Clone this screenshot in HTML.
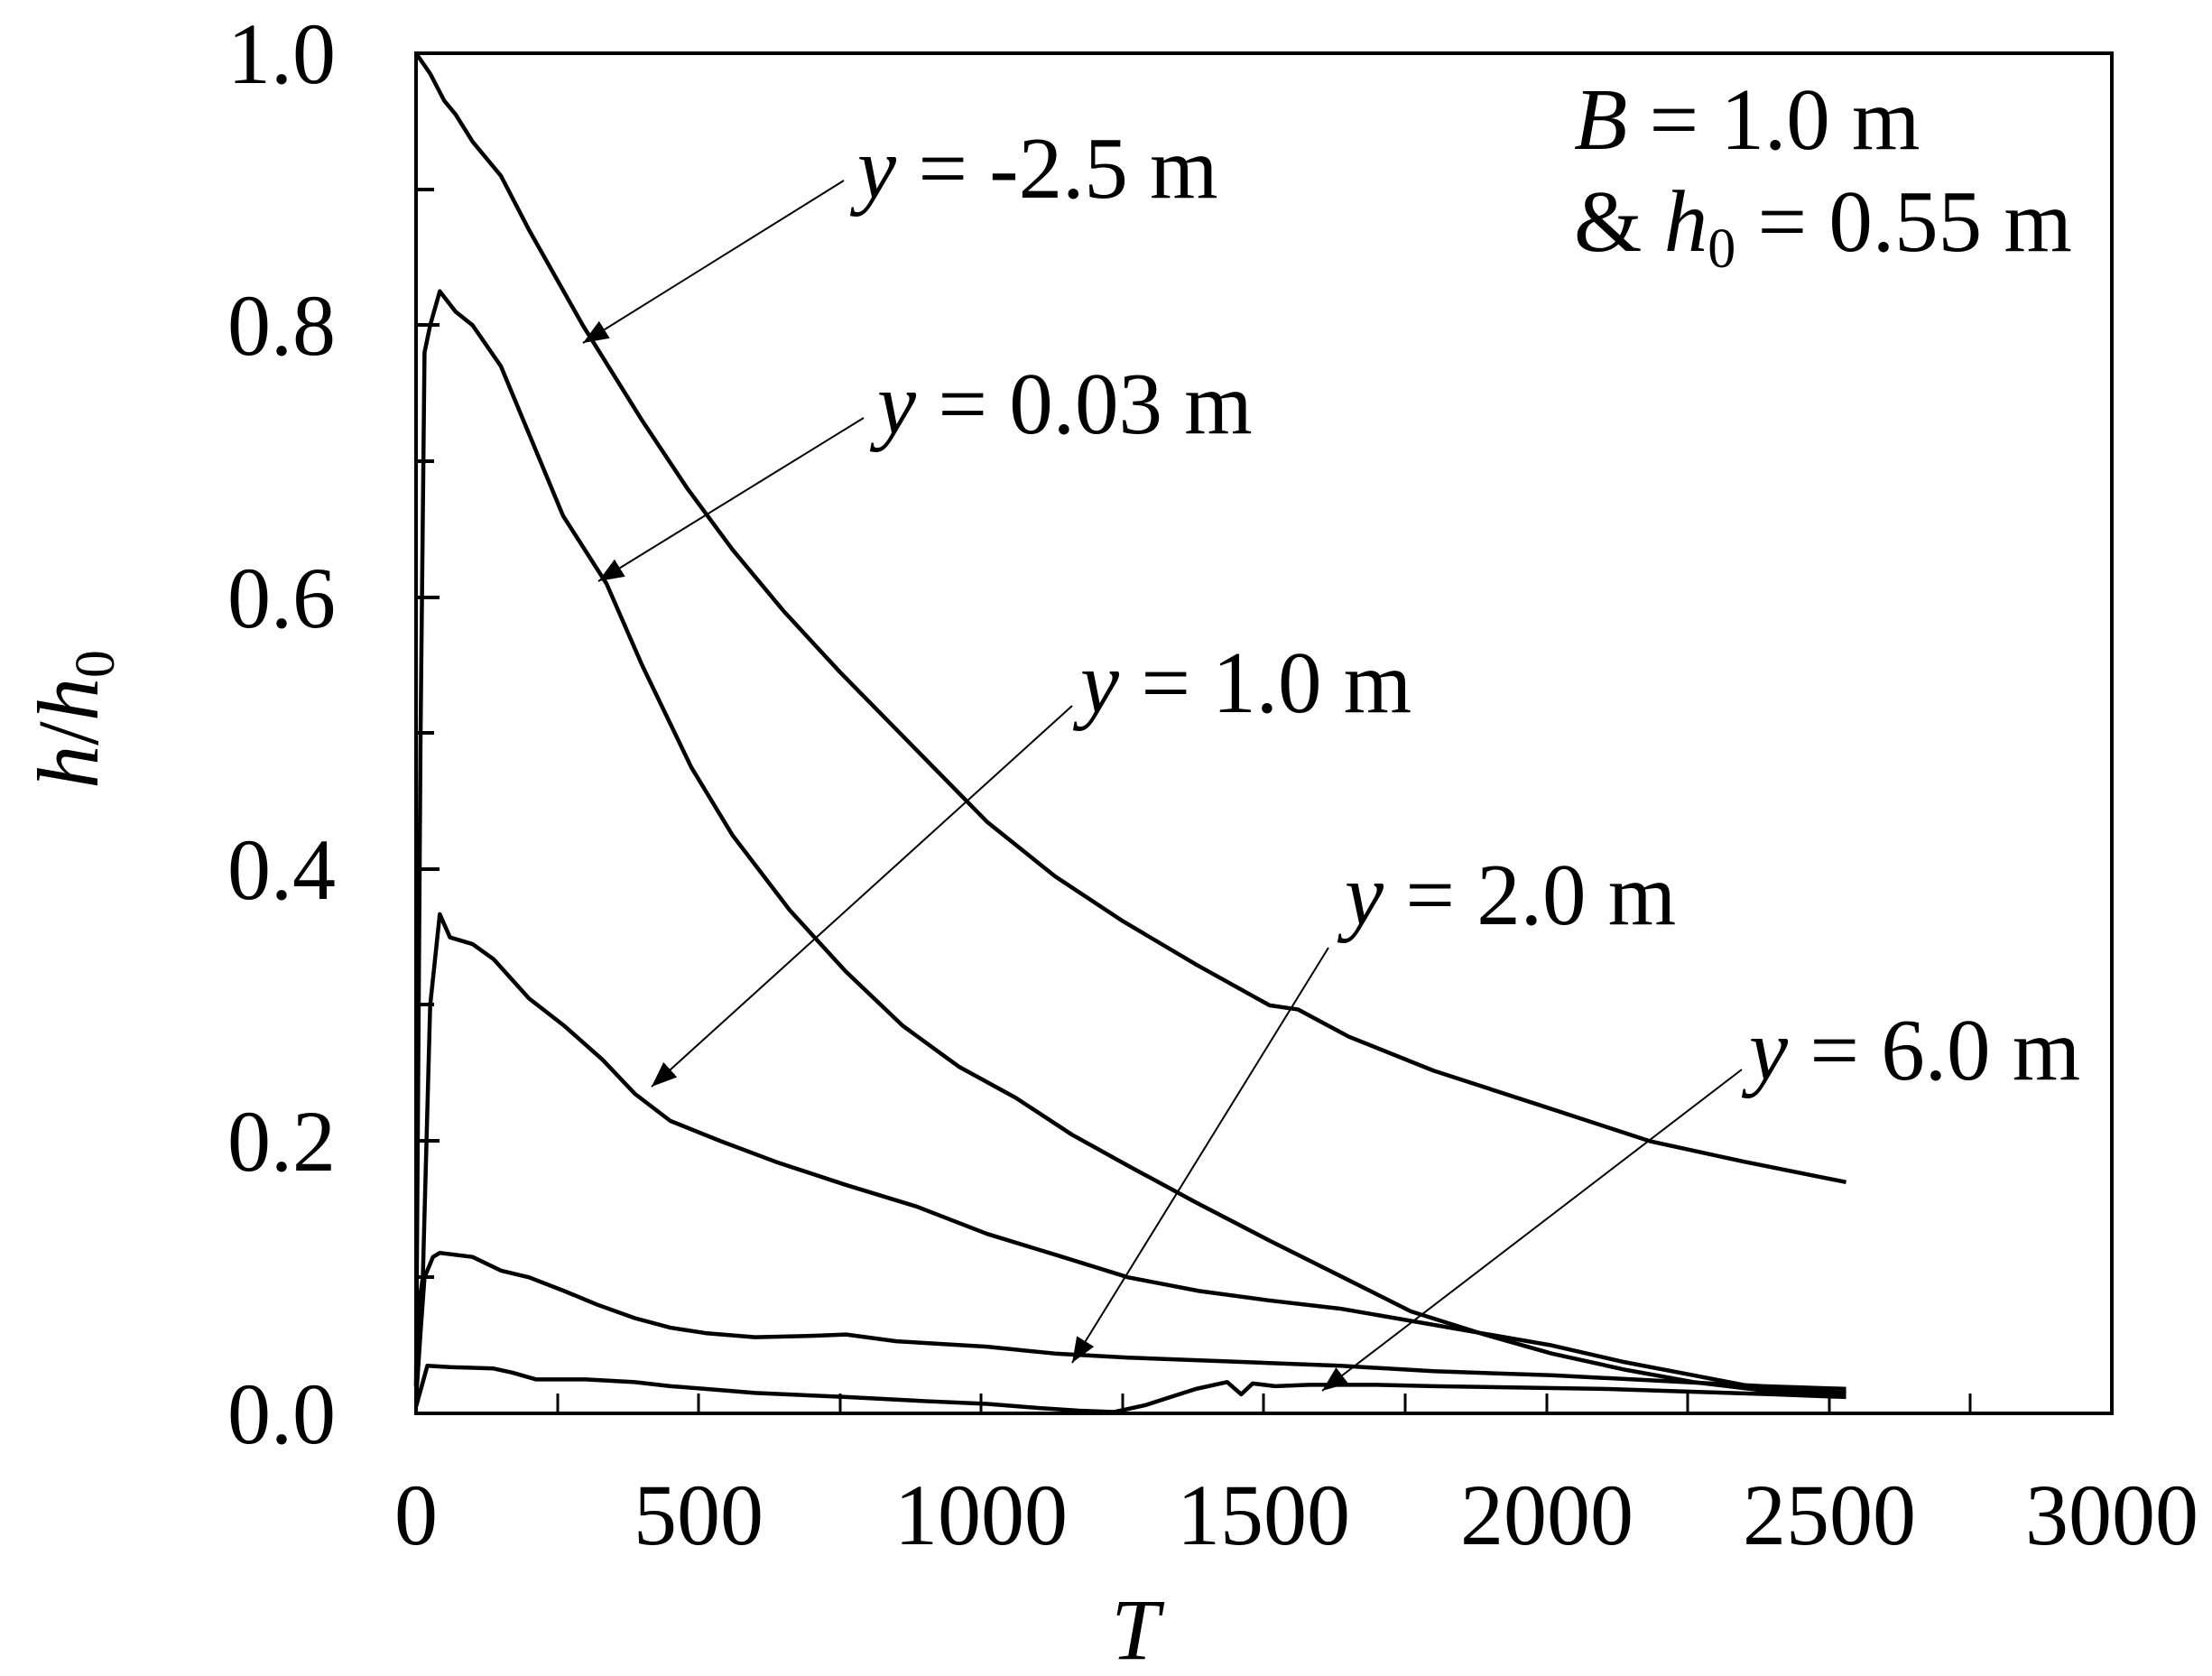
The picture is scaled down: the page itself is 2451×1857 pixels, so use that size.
<!DOCTYPE html>
<html><head><meta charset="utf-8"><style>
html,body{margin:0;padding:0;background:#fff;}
svg{display:block;}
text{font-family:"Liberation Serif",serif;fill:#000;}
</style></head><body>
<svg width="2451" height="1857" viewBox="0 0 2451 1857" xmlns="http://www.w3.org/2000/svg">
<defs>
<marker id="ar" viewBox="0 0 10 10" refX="10" refY="5" markerWidth="28" markerHeight="28" markerUnits="userSpaceOnUse" orient="auto">
<path d="M0,1 L10,5 L0,9 z" fill="#000"/>
</marker>
</defs>
<rect x="461" y="59" width="1879" height="1507" fill="none" stroke="#000" stroke-width="4"/>
<g stroke="#000" stroke-width="4">
<line x1="461" y1="210" x2="481" y2="210"/>
<line x1="461" y1="360" x2="487" y2="360"/>
<line x1="461" y1="511" x2="481" y2="511"/>
<line x1="461" y1="662" x2="487" y2="662"/>
<line x1="461" y1="812" x2="481" y2="812"/>
<line x1="461" y1="963" x2="487" y2="963"/>
<line x1="461" y1="1113" x2="481" y2="1113"/>
<line x1="461" y1="1264" x2="487" y2="1264"/>
<line x1="461" y1="1415" x2="481" y2="1415"/>
</g>
<g stroke="#000" stroke-width="3">
<line x1="618" y1="1566" x2="618" y2="1544"/>
<line x1="774" y1="1566" x2="774" y2="1544"/>
<line x1="931" y1="1566" x2="931" y2="1544"/>
<line x1="1087" y1="1566" x2="1087" y2="1544"/>
<line x1="1244" y1="1566" x2="1244" y2="1544"/>
<line x1="1400" y1="1566" x2="1400" y2="1544"/>
<line x1="1557" y1="1566" x2="1557" y2="1544"/>
<line x1="1714" y1="1566" x2="1714" y2="1544"/>
<line x1="1870" y1="1566" x2="1870" y2="1544"/>
<line x1="2027" y1="1566" x2="2027" y2="1544"/>
<line x1="2183" y1="1566" x2="2183" y2="1544"/>
</g>
<g font-size="96" text-anchor="end">
<text x="372" y="92">1.0</text>
<text x="372" y="393">0.8</text>
<text x="372" y="695">0.6</text>
<text x="372" y="996">0.4</text>
<text x="372" y="1297">0.2</text>
<text x="372" y="1599">0.0</text>
</g>
<g font-size="96" text-anchor="middle">
<text x="461" y="1711">0</text>
<text x="774" y="1711">500</text>
<text x="1087" y="1711">1000</text>
<text x="1400" y="1711">1500</text>
<text x="1714" y="1711">2000</text>
<text x="2027" y="1711">2500</text>
<text x="2340" y="1711">3000</text>
<text x="1258" y="1838" font-style="italic">T</text>
</g>
<text font-size="96" transform="translate(108,797) rotate(-90)" text-anchor="middle"><tspan font-style="italic">h</tspan>/<tspan font-style="italic">h</tspan><tspan font-size="62" dy="18">0</tspan></text>
<text x="1744" y="165" font-size="97"><tspan font-style="italic">B</tspan> = 1.0 m</text>
<text x="1744" y="278" font-size="97">&amp; <tspan font-style="italic">h</tspan><tspan font-size="62" dy="18">0</tspan><tspan dy="-18"> = 0.55 m</tspan></text>
<g font-size="97">
<text x="950" y="219"><tspan font-style="italic">y</tspan> = -2.5 m</text>
<text x="972" y="480"><tspan font-style="italic">y</tspan> = 0.03 m</text>
<text x="1197" y="789"><tspan font-style="italic">y</tspan> = 1.0 m</text>
<text x="1490" y="1024"><tspan font-style="italic">y</tspan> = 2.0 m</text>
<text x="1938" y="1196"><tspan font-style="italic">y</tspan> = 6.0 m</text>
</g>
<g stroke="#000" stroke-width="2" marker-end="url(#ar)">
<line x1="935" y1="200" x2="646" y2="380"/>
<line x1="957" y1="463" x2="663" y2="644"/>
<line x1="1188" y1="782" x2="722" y2="1204"/>
<line x1="1472" y1="1050" x2="1188" y2="1510"/>
<line x1="1930" y1="1185" x2="1465" y2="1541"/>
</g>
<g transform="translate(461,1566) scale(0.6263,-1507)" fill="none" stroke="#000" stroke-width="4.5" stroke-linejoin="round">
<polyline vector-effect="non-scaling-stroke" points="0,1 25,0.985 50,0.965 70,0.955 100,0.935 150,0.91 200,0.87 295,0.8 400,0.73 480,0.68 560,0.635 650,0.59 750,0.545 880,0.49 1010,0.435 1130,0.395 1250,0.362 1380,0.33 1510,0.3 1560,0.297 1650,0.277 1800,0.252 2000,0.225 2184,0.2 2350,0.185 2530,0.17"/>
<polyline vector-effect="non-scaling-stroke" points="0,0.02 8,0.5 15,0.78 25,0.8 42,0.825 70,0.81 100,0.8 150,0.77 200,0.72 260,0.66 337,0.61 400,0.55 487,0.475 560,0.425 661,0.37 760,0.325 861,0.285 960,0.255 1061,0.232 1160,0.205 1260,0.182 1380,0.155 1510,0.127 1640,0.1 1760,0.075 1890,0.058 2009,0.044 2140,0.032 2260,0.023 2400,0.016 2530,0.015"/>
<polyline vector-effect="non-scaling-stroke" points="0,0.02 5,0.08 12,0.1 25,0.3 42,0.367 60,0.35 100,0.345 137,0.334 200,0.305 262,0.285 330,0.26 387,0.235 450,0.215 540,0.2 636,0.185 760,0.168 886,0.152 1010,0.132 1136,0.116 1260,0.1 1385,0.09 1510,0.083 1635,0.077 1760,0.068 1884,0.059 2009,0.05 2134,0.038 2260,0.028 2384,0.018 2530,0.015"/>
<polyline vector-effect="non-scaling-stroke" points="0,0.01 8,0.06 15,0.1 30,0.115 42,0.118 100,0.115 150,0.105 200,0.1 262,0.09 320,0.08 387,0.07 450,0.063 512,0.059 600,0.056 700,0.057 761,0.058 850,0.053 1010,0.049 1130,0.044 1260,0.041 1450,0.038 1635,0.035 1800,0.031 2009,0.028 2200,0.024 2384,0.02 2530,0.018"/>
<polyline vector-effect="non-scaling-stroke" points="0,0.005 10,0.02 20,0.035 60,0.034 137,0.033 170,0.03 212,0.025 300,0.025 387,0.023 450,0.02 512,0.018 600,0.015 761,0.012 900,0.009 1010,0.007 1100,0.004 1173,0.002 1235,0.001 1290,0.006 1335,0.012 1380,0.018 1435,0.023 1460,0.014 1480,0.022 1520,0.02 1580,0.021 1635,0.021 1700,0.021 1800,0.02 1950,0.019 2100,0.018 2250,0.016 2400,0.014 2530,0.012"/>
</g>
</svg>
</body></html>
